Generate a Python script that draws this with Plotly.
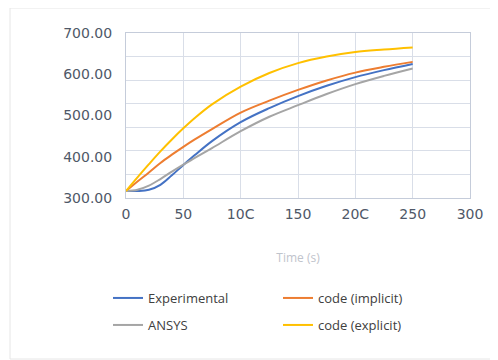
import plotly.graph_objects as go

time_s = [0, 10, 20, 30, 40, 50, 60, 75, 100, 125, 150, 175, 200, 225, 250]
experimental = [317, 317, 320, 332, 355, 380, 404, 438, 484, 518, 547, 572, 593, 610, 625]
ansys = [317, 320, 330, 346, 364, 381, 397, 421, 462, 497, 525, 552, 576, 596, 614]
code_implicit = [317, 340, 362, 385, 405, 424, 442, 467, 507, 536, 562, 585, 604, 618, 630]
code_explicit = [317, 350, 382, 413, 442, 469, 494, 527, 570, 603, 627, 643, 654, 660, 665]

series_names = ["Experimental", "code (implicit)", "ANSYS", "code (explicit)"]
x_ticks = [0, 50, 100, 150, 200, 250, 300]
x_tick_text = ["0", "50", "10C", "150", "20C", "250", "300"]
y_ticks = [300, 400, 500, 600, 700]

colors = {"Experimental": "#4472C4", "code (implicit)": "#ED7D31",
          "ANSYS": "#A5A5A5", "code (explicit)": "#FFC000"}
values = {"Experimental": experimental, "code (implicit)": code_implicit,
          "ANSYS": ansys, "code (explicit)": code_explicit}
legend_of = {"Experimental": "legend", "code (implicit)": "legend",
             "ANSYS": "legend2", "code (explicit)": "legend2"}

fig = go.Figure()
for name in series_names:
    fig.add_trace(go.Scatter(x=time_s, y=values[name], mode="lines", name=name,
                             line=dict(color=colors[name], width=2, shape="spline", smoothing=1.0),
                             legend=legend_of[name]))

grid_c = "#D9DEE8"
tick_c = "#4F5868"
L, R, T, B = 118, 462, 25, 190  # plot area in figure pixels
pw, ph = R - L, B - T

def px_x(p):
    return (p - L) / pw

def px_y(p):
    return (B - p) / ph

legend_common = dict(orientation="h", xanchor="left", yanchor="middle",
                     entrywidth=125, entrywidthmode="pixels",
                     font=dict(family="Open Sans", size=13, color="#404040"),
                     bgcolor="rgba(0,0,0,0)")

fig.update_layout(
    width=498, height=360,
    margin=dict(l=L, r=498 - R, t=T, b=360 - B),
    paper_bgcolor="white", plot_bgcolor="white",
    font=dict(family="DejaVu Sans", size=14, color=tick_c),
    xaxis=dict(range=[0, 300], tickvals=x_ticks, ticktext=x_tick_text,
               showgrid=True, gridcolor=grid_c, gridwidth=1,
               showline=True, linecolor="#C5CCDA", linewidth=1, mirror=True,
               zeroline=False, ticks="", ticklabelstandoff=3,
               tickfont=dict(family="DejaVu Sans", size=14, color=tick_c),
               title=dict(text="Time (s)", font=dict(family="Open Sans", size=12, color="#BFC4CC"),
                          standoff=32)),
    yaxis=dict(range=[300, 700], tickvals=y_ticks, tickformat=".2f",
               showgrid=False, showline=True, linecolor="#C5CCDA", linewidth=1, mirror=True,
               zeroline=False, ticks="", ticklabelstandoff=10,
               tickfont=dict(family="DejaVu Sans", size=14, color=tick_c),
               minor=dict(showgrid=True, gridcolor=grid_c, gridwidth=1,
                          tick0=300, dtick=400 / 7)),
    legend=dict(x=px_x(100), y=px_y(290), **legend_common),
    legend2=dict(x=px_x(100), y=px_y(317), **legend_common),
    shapes=[dict(type="rect", xref="paper", yref="paper",
                 x0=px_x(2), x1=px_x(489), y0=px_y(351), y1=px_y(0),
                 line=dict(color="#E6E6E6", width=1), fillcolor="rgba(0,0,0,0)", layer="below")],
)

fig.write_html("out.html")
